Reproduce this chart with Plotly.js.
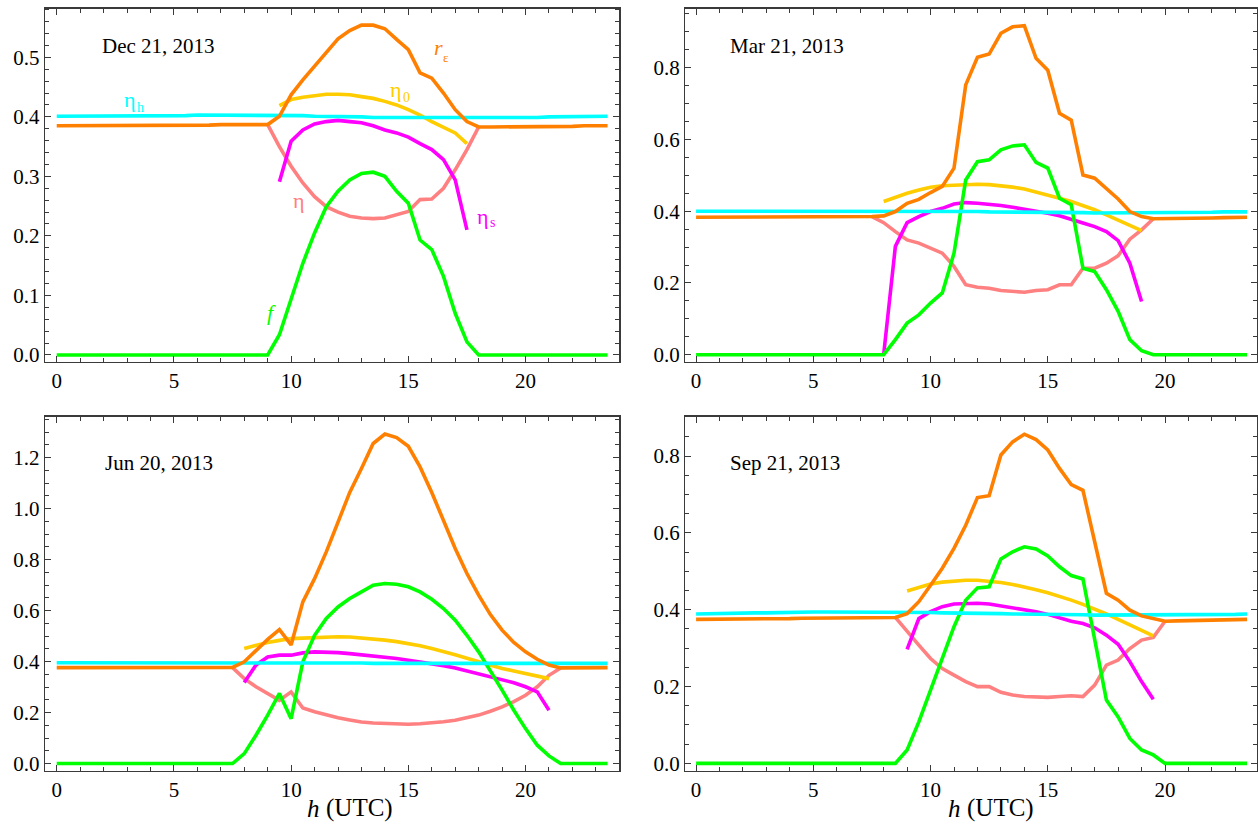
<!DOCTYPE html>
<html>
<head>
<meta charset="utf-8">
<script src="https://cdn.plot.ly/plotly-3.0.1.min.js"></script>
<style>
  html, body { margin: 0; padding: 0; background: #ffffff; }
  #chart { width: 1258px; height: 824px; }
</style>
</head>
<body>
<div id="chart"></div>
<script>
// ---------------- data (hour of day, UTC) ----------------
const hours = [0,0.5,1,1.5,2,2.5,3,3.5,4,4.5,5,5.5,6,6.5,7,7.5,8,8.5,9,9.5,10,10.5,11,11.5,
               12,12.5,13,13.5,14,14.5,15,15.5,16,16.5,17,17.5,18,18.5,19,19.5,20,20.5,21,21.5,22,22.5,23,23.5];

const panelTitles = ["Dec 21, 2013", "Mar 21, 2013", "Jun 20, 2013", "Sep 21, 2013"];
const seriesNames = ["η", "ηs", "η0", "f", "ηh", "rε"];
const xTickVals = [0, 5, 10, 15, 20];

// Dec 21, 2013
const reDec   = [0.385,0.385,0.385,0.385,0.385,0.385,0.386,0.386,0.386,0.386,0.386,0.386,0.386,0.386,0.387,0.387,0.387,0.387,0.387,
                 0.401,0.437,0.462,0.485,0.507,0.531,0.545,0.554,0.554,0.548,0.530,0.513,0.474,0.465,0.440,0.412,0.392,
                 0.383,0.383,0.383,0.383,0.383,0.384,0.384,0.384,0.384,0.385,0.385,0.385];
const etahDec = [0.401,0.401,0.401,0.401,0.402,0.402,0.402,0.402,0.402,0.402,0.402,0.402,0.403,0.403,0.403,0.403,0.403,0.403,0.403,
                 0.403,0.402,0.402,0.401,0.401,0.400,0.400,0.400,0.399,0.399,0.399,0.398,0.398,0.398,0.398,0.398,0.398,
                 0.398,0.398,0.399,0.399,0.399,0.399,0.400,0.400,0.400,0.401,0.401,0.401];
const eta0Dec = [null,null,null,null,null,null,null,null,null,null,null,null,null,null,null,null,null,null,null,
                 0.419,0.429,0.433,0.436,0.438,0.438,0.437,0.434,0.431,0.426,0.420,0.412,0.403,0.392,0.383,0.373,0.355,
                 null,null,null,null,null,null,null,null,null,null,null,null];
const etasDec = [null,null,null,null,null,null,null,null,null,null,null,null,null,null,null,null,null,null,null,
                 0.291,0.359,0.378,0.388,0.392,0.394,0.392,0.390,0.385,0.378,0.373,0.366,0.355,0.345,0.328,0.294,0.210,
                 null,null,null,null,null,null,null,null,null,null,null,null];
const etaDec  = [null,null,null,null,null,null,null,null,null,null,null,null,null,null,null,null,null,null,0.387,
                 0.350,0.317,0.289,0.266,0.249,0.240,0.233,0.230,0.229,0.230,0.235,0.241,0.261,0.262,0.280,0.311,0.345,
                 0.383,null,null,null,null,null,null,null,null,null,null,null];
const fDec    = [0,0,0,0,0,0,0,0,0,0,0,0,0,0,0,0,0,0,0,
                 0.034,0.092,0.154,0.205,0.249,0.275,0.294,0.305,0.307,0.300,0.275,0.255,0.193,0.177,0.132,0.070,0.022,
                 0,0,0,0,0,0,0,0,0,0,0,0];

// Mar 21, 2013
const reMar   = [0.383,0.383,0.383,0.383,0.384,0.384,0.384,0.384,0.384,0.384,0.385,0.385,0.385,0.385,0.385,0.385,0.387,
                 0.399,0.422,0.433,0.452,0.469,0.520,0.752,0.829,0.838,0.896,0.914,0.917,0.826,0.793,0.673,0.654,0.501,0.492,0.464,0.434,0.399,0.385,
                 0.379,0.379,0.380,0.380,0.381,0.381,0.382,0.382,0.383];
const etahMar = [0.400,0.400,0.400,0.400,0.400,0.401,0.401,0.401,0.401,0.401,0.401,0.401,0.401,0.401,0.401,0.401,0.401,
                 0.401,0.400,0.400,0.400,0.400,0.399,0.399,0.399,0.398,0.398,0.398,0.397,0.397,0.397,0.396,0.396,0.396,0.395,0.395,0.395,0.395,0.395,
                 0.395,0.396,0.396,0.396,0.397,0.397,0.398,0.398,0.398];
const eta0Mar = [null,null,null,null,null,null,null,null,null,null,null,null,null,null,null,null,
                 0.427,0.439,0.450,0.459,0.467,0.471,0.473,0.475,0.475,0.474,0.471,0.467,0.462,0.454,0.445,0.436,0.427,0.416,0.404,0.390,0.376,0.361,0.346,
                 null,null,null,null,null,null,null,null,null];
const etasMar = [null,null,null,null,null,null,null,null,null,null,null,null,null,null,null,null,
                 0.0,0.302,0.368,0.385,0.399,0.408,0.420,0.424,0.422,0.420,0.416,0.411,0.406,0.401,0.394,0.387,0.378,0.367,0.357,0.343,0.318,0.255,0.148,
                 null,null,null,null,null,null,null,null,null];
const etaMar  = [null,null,null,null,null,null,null,null,null,null,null,null,null,null,null,0.385,
                 0.368,0.343,0.320,0.311,0.297,0.283,0.246,0.195,0.188,0.185,0.179,0.176,0.174,0.179,0.181,0.195,0.195,0.241,0.241,0.255,0.276,0.322,0.348,0.379,
                 null,null,null,null,null,null,null,null];
const fMar    = [0,0,0,0,0,0,0,0,0,0,0,0,0,0,0,0,0,
                 0.042,0.088,0.111,0.144,0.172,0.283,0.487,0.538,0.543,0.571,0.582,0.585,0.536,0.520,0.436,0.418,0.241,0.232,0.181,0.121,0.042,0.011,
                 0,0,0,0,0,0,0,0,0];

// Jun 20, 2013
const reJun   = [0.376,0.376,0.376,0.376,0.376,0.377,0.377,0.377,0.377,0.377,0.377,0.377,0.377,0.377,0.377,0.377,
                 0.399,0.444,0.487,0.525,0.465,0.634,0.725,0.830,0.948,1.063,1.157,1.255,1.292,1.278,1.244,1.163,1.063,0.950,0.843,0.745,0.660,0.584,0.523,0.475,0.438,0.409,0.386,
                 0.375,0.375,0.376,0.376,0.376];
const etahJun = [0.395,0.395,0.395,0.395,0.396,0.396,0.396,0.396,0.396,0.396,0.397,0.397,0.397,0.397,0.397,0.397,0.397,
                 0.397,0.396,0.396,0.396,0.395,0.395,0.395,0.394,0.394,0.394,0.393,0.393,0.393,0.392,0.392,0.392,0.392,0.392,0.392,0.392,0.392,0.392,0.392,0.392,0.392,0.392,
                 0.392,0.393,0.393,0.393,0.393];
const eta0Jun = [null,null,null,null,null,null,null,null,null,null,null,null,null,null,null,null,
                 0.451,0.464,0.475,0.483,0.490,0.492,0.494,0.496,0.497,0.496,0.493,0.489,0.484,0.478,0.471,0.462,0.451,0.440,0.427,0.413,0.399,0.386,0.373,0.363,0.353,0.343,0.333,
                 null,null,null,null,null];
const etasJun = [null,null,null,null,null,null,null,null,null,null,null,null,null,null,null,null,
                 0.318,0.386,0.418,0.425,0.425,0.434,0.438,0.438,0.435,0.431,0.427,0.423,0.418,0.412,0.405,0.399,0.392,0.384,0.375,0.364,0.353,0.342,0.331,0.317,0.301,0.281,0.209,
                 null,null,null,null,null];
const etaJun  = [null,null,null,null,null,null,null,null,null,null,null,null,null,null,null,0.376,
                 0.333,0.301,0.275,0.248,0.281,0.218,0.203,0.190,0.180,0.171,0.163,0.159,0.157,0.155,0.154,0.156,0.159,0.164,0.170,0.179,0.190,0.205,0.222,0.243,0.268,0.301,0.346,0.375,
                 null,null,null,null];
const fJun    = [0,0,0,0,0,0,0,0,0,0,0,0,0,0,0,0,
                 0.039,0.111,0.190,0.275,0.176,0.399,0.503,0.569,0.614,0.647,0.673,0.699,0.706,0.703,0.693,0.673,0.644,0.608,0.562,0.503,0.438,0.366,0.288,0.209,0.137,0.072,0.030,
                 0,0,0,0,0];

// Sep 21, 2013
const reSep   = [0.375,0.375,0.375,0.376,0.376,0.376,0.377,0.377,0.377,0.378,0.378,0.378,0.379,0.379,0.379,0.380,0.380,0.380,
                 0.390,0.421,0.464,0.508,0.560,0.620,0.692,0.697,0.803,0.837,0.857,0.843,0.816,0.768,0.726,0.711,0.577,0.443,0.425,0.399,0.384,0.377,0.370,
                 0.371,0.372,0.372,0.373,0.374,0.374,0.375];
const etahSep = [0.389,0.390,0.390,0.391,0.391,0.392,0.392,0.393,0.393,0.393,0.394,0.394,0.394,0.394,0.395,0.395,0.395,0.395,
                 0.394,0.394,0.393,0.392,0.392,0.391,0.391,0.390,0.390,0.389,0.389,0.388,0.388,0.387,0.387,0.387,0.386,0.386,0.386,0.386,0.386,0.386,0.386,
                 0.386,0.386,0.387,0.387,0.388,0.388,0.389];
const eta0Sep = [null,null,null,null,null,null,null,null,null,null,null,null,null,null,null,null,null,null,
                 0.449,0.459,0.467,0.472,0.475,0.477,0.477,0.475,0.471,0.466,0.460,0.452,0.444,0.435,0.425,0.414,0.402,0.389,0.375,0.361,0.347,0.332,
                 null,null,null,null,null,null,null,null];
const etasSep = [null,null,null,null,null,null,null,null,null,null,null,null,null,null,null,null,null,null,
                 0.297,0.377,0.395,0.408,0.415,0.417,0.417,0.415,0.410,0.406,0.402,0.395,0.388,0.379,0.370,0.364,0.353,0.334,0.310,0.265,0.213,0.167,
                 null,null,null,null,null,null,null,null];
const etaSep  = [null,null,null,null,null,null,null,null,null,null,null,null,null,null,null,null,null,0.380,
                 0.343,0.308,0.273,0.247,0.230,0.213,0.200,0.200,0.185,0.178,0.174,0.172,0.172,0.174,0.176,0.174,0.204,0.256,0.269,0.299,0.321,0.328,0.370,
                 null,null,null,null,null,null,null];
const fSep    = [0,0,0,0,0,0,0,0,0,0,0,0,0,0,0,0,0,0,
                 0.035,0.108,0.191,0.273,0.356,0.425,0.457,0.460,0.532,0.551,0.564,0.558,0.540,0.512,0.489,0.480,0.320,0.165,0.121,0.065,0.035,0.022,0.0,
                 0,0,0,0,0,0,0];

// ---------------- styling ----------------
const colors = { eta: "#ff8080", etas: "#ff00ff", eta0: "#ffcc00", f: "#00ff00", etah: "#00ffff", re: "#ff8000" };
const LW = 3.6;
const SERIF = "Liberation Serif, Times New Roman, serif";

const panels = [
  { re: reDec, etah: etahDec, eta0: eta0Dec, etas: etasDec, eta: etaDec, f: fDec },
  { re: reMar, etah: etahMar, eta0: eta0Mar, etas: etasMar, eta: etaMar, f: fMar },
  { re: reJun, etah: etahJun, eta0: eta0Jun, etas: etasJun, eta: etaJun, f: fJun },
  { re: reSep, etah: etahSep, eta0: eta0Sep, etas: etasSep, eta: etaSep, f: fSep }
];
const order = ["eta", "etas", "eta0", "f", "etah", "re"];

const traces = [];
panels.forEach((p, i) => {
  const suf = i === 0 ? "" : String(i + 1);
  order.forEach((k, j) => {
    traces.push({
      type: "scatter", mode: "lines",
      x: hours, y: p[k],
      name: seriesNames[j],
      xaxis: "x" + suf, yaxis: "y" + suf,
      line: { color: colors[k], width: LW },
      connectgaps: false,
      showlegend: false,
      hoverinfo: "skip"
    });
  });
});

// figure geometry (px) -> paper fractions
const W = 1258, H = 824;
const px = v => v / W, py = v => 1 - v / H;
const colL = [px(45), px(619.3)], colR = [px(685.3), px(1256.7)];
const rowT = [py(361.5), py(8.5)], rowB = [py(770.7), py(416.7)];

const frameCol = "#3a3a3a";
function xAxis(domain, range, anchor) {
  return {
    domain: domain, range: range, anchor: anchor,
    tickvals: xTickVals, ticks: "inside", ticklen: 6, tickwidth: 1, tickcolor: frameCol,
    minor: { dtick: 1, tick0: 0, ticks: "inside", ticklen: 4, tickwidth: 1, tickcolor: frameCol },
    showline: true, linecolor: frameCol, linewidth: 1.3, mirror: "ticks",
    showgrid: false, zeroline: false,
    tickfont: { family: SERIF, size: 21, color: "#000" },
    fixedrange: true
  };
}
function yAxis(domain, range, anchor, dtick, minorDtick, fmt) {
  return {
    domain: domain, range: range, anchor: anchor,
    dtick: dtick, tick0: 0, tickformat: fmt,
    ticks: "inside", ticklen: 6, tickwidth: 1, tickcolor: frameCol,
    minor: { dtick: minorDtick, tick0: 0, ticks: "inside", ticklen: 4, tickwidth: 1, tickcolor: frameCol },
    showline: true, linecolor: frameCol, linewidth: 1.3, mirror: "ticks",
    showgrid: false, zeroline: false,
    tickfont: { family: SERIF, size: 21, color: "#000" },
    fixedrange: true
  };
}

// plain-text annotation placed by pixel position (left / middle anchored)
function lab(text, x, y, color, size, italic) {
  return {
    text: text, xref: "paper", yref: "paper", x: px(x), y: py(y),
    xanchor: "left", yanchor: "middle", showarrow: false,
    font: { family: SERIF, size: size, color: color, style: italic ? "italic" : "normal" }
  };
}

const annotations = [
  lab(panelTitles[0], 100, 46, "#000", 21),
  lab(panelTitles[1], 728, 46, "#000", 21),
  lab(panelTitles[2], 103, 463, "#000", 21),
  lab(panelTitles[3], 728, 463, "#000", 21),
  // curve labels (Dec panel): main symbol + subscript
  lab("r", 432, 48, colors.re, 22, true),
  lab("ε", 441, 58, colors.re, 13),
  lab("η", 388, 90, colors.eta0, 22),
  lab("0", 401, 97, colors.eta0, 14),
  lab("η", 122, 100, colors.etah, 22),
  lab("h", 135, 107, colors.etah, 14),
  lab("η", 291, 200, colors.eta, 22),
  lab("η", 475, 216, colors.etas, 22),
  lab("s", 488, 223, colors.etas, 14),
  lab("f", 265, 312, colors.f, 22, true),
  // x-axis titles of the bottom panels
  lab("h", 305, 808, "#000", 25, true),
  lab("(UTC)", 324, 808, "#000", 25),
  lab("h", 946, 808, "#000", 25, true),
  lab("(UTC)", 965, 808, "#000", 25)
];

const layout = {
  width: W, height: H,
  margin: { l: 0, r: 0, t: 0, b: 0 },
  paper_bgcolor: "#ffffff", plot_bgcolor: "#ffffff",
  showlegend: false,
  xaxis:  xAxis(colL, [-0.5, 24.0], "y"),
  yaxis:  yAxis(rowT, [-0.011, 0.582], "x", 0.1, 0.02, ".1f"),
  xaxis2: xAxis(colR, [-0.46, 23.91], "y2"),
  yaxis2: yAxis(rowT, [-0.019, 0.965], "x2", 0.2, 0.05, ".1f"),
  xaxis3: xAxis(colL, [-0.5, 24.0], "y3"),
  yaxis3: yAxis(rowB, [-0.028, 1.36], "x3", 0.2, 0.05, ".1f"),
  xaxis4: xAxis(colR, [-0.46, 23.91], "y4"),
  yaxis4: yAxis(rowB, [-0.019, 0.9026], "x4", 0.2, 0.05, ".1f"),
  annotations: annotations
};

Plotly.newPlot("chart", traces, layout, { staticPlot: true, displayModeBar: false }).then(function (gd) {
  // drop empty placeholder text nodes (e.g. blank axis titles)
  gd.querySelectorAll("text").forEach(function (t) {
    if (!t.textContent || !t.textContent.trim()) t.parentNode.removeChild(t);
  });
});
</script>
</body>
</html>
